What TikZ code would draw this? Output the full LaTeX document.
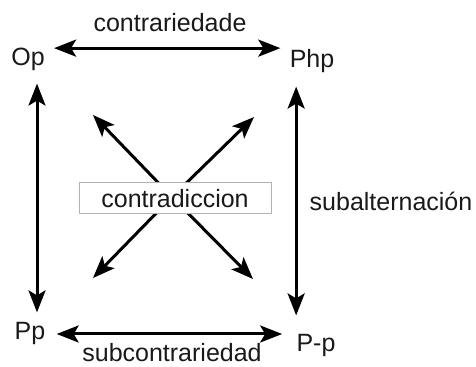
\documentclass[tikz,border=0pt]{standalone}
\usepackage{fontspec}
\setmainfont{Liberation Sans}
\usepackage{tikz}
\usetikzlibrary{arrows.meta}
\tikzset{
  dblarr/.style   = {{Stealth[length=11pt,width=8.5pt,inset=2.5pt]}-{Stealth[length=11pt,width=8.5pt,inset=2.5pt]},line width=1.5pt},
  diagarr/.style  = {-{Stealth[length=11pt,width=8.5pt,inset=2.5pt]},line width=1.5pt},
  termtext/.style = {inner sep=0pt,anchor=base,text=black!90,font=\fontsize{12.5pt}{15pt}\selectfont},
  contrbox/.style = {draw=gray!60,fill=white,line width=0.5pt,minimum width=96pt,text=black!90,
                     minimum height=15.5pt,inner sep=0pt,font=\fontsize{12.5pt}{15pt}\selectfont}
}

\begin{document}
\begin{tikzpicture}[x=0.5pt,y=-0.5pt]
  \useasboundingbox (0,0) rectangle (476,367);
  % corners of the square
  \node[termtext] (op)  at (28,66)   {Op};
  \node[termtext] (php) at (312,68)  {Php};
  \node[termtext] (pp)  at (30,340)  {Pp};
  \node[termtext] (pmp) at (316,352) {P-p};
  % relations
  \draw[dblarr,shorten <=4.5pt,shorten >=4.5pt] (op.north east) -- (op.north east -| php.west);
  \draw[dblarr,shorten <=5.5pt,shorten >=7pt] (pp.east) -- (pp.east -| pmp.west);
  \draw[dblarr,shorten <=6pt,shorten >=5pt] ([xshift=4.5pt]op.south) -- ([xshift=4.5pt]op.south |- pp.north);
  \draw[dblarr,shorten <=6.5pt,shorten >=9.5pt] (pmp.north west |- php.south) -- (pmp.north west);
  \node[termtext] (contrar) at (170,32)  {contrariedade};
  \node[termtext] (subcont) at (172,362) {subcontrariedad};
  \node[termtext] (subalt)  at (391,211) {subalternación};
  % diagonals
  \coordinate (cross) at (172,197);
  \coordinate (ul) at (93,115);
  \coordinate (ur) at (254,117);
  \coordinate (ll) at (93,278);
  \coordinate (lr) at (253,279);
  \foreach \c in {ul,ur,ll,lr} { \draw[diagarr] (cross) -- (\c); }
  \node[contrbox] (contr) at (175,198.5) {contradiccion};
\end{tikzpicture}
\end{document}
